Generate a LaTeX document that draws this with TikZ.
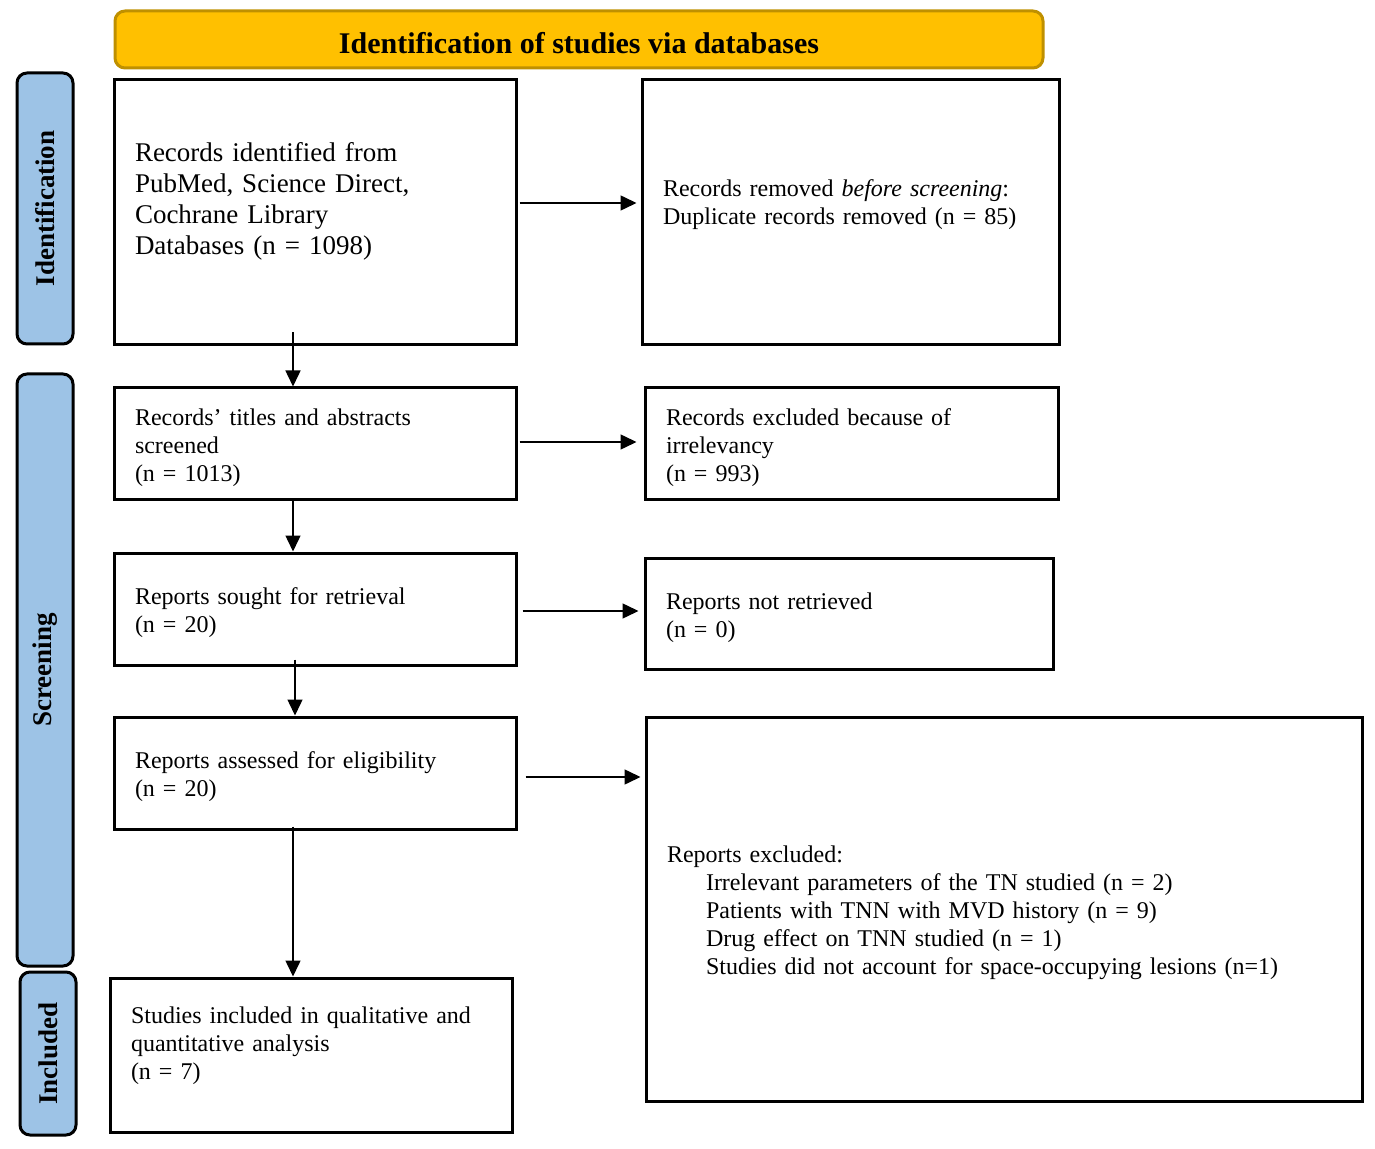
\documentclass[tikz,border=0pt]{standalone}
\usepackage{fontspec}
\setmainfont{Liberation Serif}
\usetikzlibrary{arrows.meta,positioning}

\begin{document}
\begin{tikzpicture}[x=0.5pt,y=-0.5pt,
    flowbox/.style={draw,line width=1.5pt,inner xsep=10.5pt,inner ysep=0pt,align=left,font=\fontsize{12}{14}\selectfont,execute at begin node={\rule{0pt}{12.5pt}}},
    bigbox/.style={flowbox,font=\fontsize{13.5}{15.5}\selectfont},
    phase/.style={draw,line width=1.5pt,rounded corners=5pt,fill=phase_blue,rotate=90,minimum height=28pt,font=\bfseries\fontsize{13.5}{15.5}\selectfont},
    arr/.style={line width=0.75pt,-{Triangle[length=8pt,width=7.5pt]}}]
    \definecolor{phase_blue}{rgb}{0.616, 0.765, 0.902}
    \definecolor{head_fill}{rgb}{1, 0.753, 0}
    \definecolor{head_line}{rgb}{0.749, 0.565, 0}
    \useasboundingbox (0,0) rectangle (1375,1149);

    \node[draw=head_line,line width=1.5pt,rounded corners=5pt,fill=head_fill,minimum width=464pt,minimum height=28.5pt,text height=14.3pt,text depth=0pt,font=\bfseries\fontsize{15}{17}\selectfont] (head) at (579,39.5) {Identification of studies via databases};

    \node[phase,minimum width=135.5pt] (ph_id) at (45,208.5) {Identification};
    \node[phase,minimum width=296pt] (ph_scr) at (45,670) {Screening};
    \node[phase,minimum width=81.5pt] (ph_inc) at (48,1053.5) {Included};

    \node[bigbox,text width=180pt,minimum height=132.5pt] (recid) at (315,212.5) {Records identified from\\PubMed, Science Direct,\\Cochrane Library\\Databases (n = 1098)\rule[-17pt]{0pt}{0pt}};
    \node[bigbox,font=\fontsize{12}{14}\selectfont,text width=187.5pt,minimum height=132.5pt] (recrem) at (850.5,212.5) {Records removed \textit{before screening}:\\Duplicate records removed (n = 85)\rule[-14pt]{0pt}{0pt}};

    \node[flowbox,text width=180pt,minimum height=56pt] (screened) at (315,444) {Records' titles and abstracts\\screened\\(n = 1013)};
    \node[flowbox,text width=185.5pt,minimum height=56pt] (excluded) at (851.5,444) {Records excluded because of\\irrelevancy\\(n = 993)};

    \node[flowbox,text width=180pt,minimum height=56pt] (sought) at (315,609) {Reports sought for retrieval\\(n = 20)};
    \node[flowbox,text width=183pt,minimum height=55.5pt] (notret) at (849,613.5) {Reports not retrieved\\(n = 0)};

    \node[flowbox,text width=180pt,minimum height=56pt] (assessed) at (315,773) {Reports assessed for eligibility\\(n = 20)};
    \node[flowbox,text width=337pt,minimum height=192pt] (repexcl) at (1004,909) {Reports excluded:\\
        \hspace*{19.5pt}Irrelevant parameters of the TN studied (n = 2)\\
        \hspace*{19.5pt}Patients with TNN with MVD history (n = 9)\\
        \hspace*{19.5pt}Drug effect on TNN studied (n = 1)\\
        \hspace*{19.5pt}Studies did not account for space-occupying lesions (n=1)};

    \node[flowbox,text width=180pt,minimum height=77pt] (included) at (311,1055) {Studies included in qualitative and\\quantitative analysis\\(n = 7)\rule[-16pt]{0pt}{0pt}};

    \draw[arr] ([xshift=-11pt,yshift=7pt]recid.south) -- ([xshift=-11pt]screened.north);
    \draw[arr] ([xshift=-11pt,yshift=1.5pt]screened.south) -- ([xshift=-11pt]sought.north);
    \draw[arr] ([xshift=-10pt,yshift=3.5pt]sought.south) -- ([xshift=-10pt]assessed.north);
    \draw[arr] ([xshift=-11pt,yshift=2pt]assessed.south) -- ([xshift=-9pt]included.north);

    \draw[arr] ([xshift=1pt,yshift=4.75pt]recid.east) -- ([xshift=-2pt,yshift=4.75pt]recrem.west);
    \draw[arr] ([xshift=1pt,yshift=1pt]screened.east) -- ([xshift=-3.5pt,yshift=1pt]excluded.west);
    \draw[arr] ([xshift=2.5pt,yshift=-1pt]sought.east) -- ([xshift=-2.5pt,yshift=1.25pt]notret.west);
    \draw[arr,shorten >=2pt] ([xshift=4pt,yshift=-2pt]assessed.east) coordinate (a4) -- (repexcl.west |- a4);
\end{tikzpicture}
\end{document}
